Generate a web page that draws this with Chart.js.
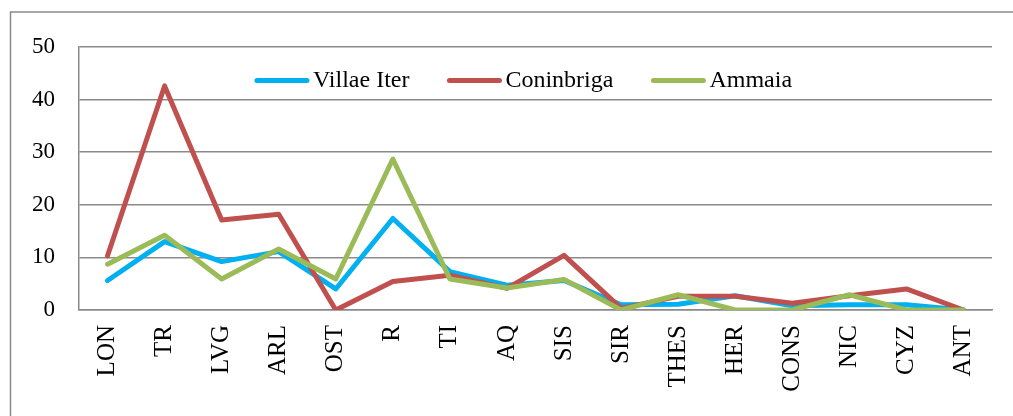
<!DOCTYPE html>
<html>
<head>
<meta charset="utf-8">
<script src="https://cdn.jsdelivr.net/npm/chart.js@4.4.1/dist/chart.umd.min.js"></script>
<style>
  html, body { margin: 0; padding: 0; background: #fff; }
  #wrap { position: relative; width: 1013px; height: 416px; }
</style>
</head>
<body>
<div id="wrap"><canvas id="c" width="1013" height="416"></canvas></div>
<script>
// Site counts by city, three series.
const labels = ["LON","TR","LVG","ARL","OST","R","TI","AQ","SIS","SIR","THES","HER","CONS","NIC","CYZ","ANT"];
const villaeIter = [5.6, 13.0, 9.2, 11.1, 4.0, 17.4, 7.3, 4.7, 5.6, 1.0, 1.1, 2.7, 0.8, 1.0, 1.0, 0];
const coninbriga = [10.3, 42.6, 17.1, 18.2, 0, 5.4, 6.6, 4.1, 10.4, 0.3, 2.6, 2.6, 1.3, 2.7, 4.0, 0];
const ammaia     = [8.7, 14.2, 5.9, 11.6, 5.9, 28.7, 5.9, 4.2, 5.8, 0, 2.9, 0, 0, 2.9, 0, 0];
const yTicks = [0, 10, 20, 30, 40, 50];

const SERIF = "'Liberation Serif', 'DejaVu Serif', serif";
const GRID = "#8a8a8a";

// outer frame (only left + top edges show in the source) and an in-plot legend
const frame = {
  id: "frame",
  beforeDraw(chart) {
    const ctx = chart.ctx;
    ctx.save();
    ctx.strokeStyle = GRID; ctx.lineWidth = 1.5;
    ctx.beginPath(); ctx.moveTo(10.5, 416); ctx.lineTo(10.5, 12); ctx.lineTo(1013, 12); ctx.stroke();
    ctx.restore();
  }
};
const inLegend = {
  id: "inLegend",
  afterDraw(chart) {
    const ctx = chart.ctx, ca = chart.chartArea;
    const sw = 54, gap = 4, sep = 38, y = 80.5;
    ctx.save();
    ctx.font = "24px " + SERIF;
    ctx.textBaseline = "middle";
    const items = chart.data.datasets.map(d => ({d, w: ctx.measureText(d.label).width}));
    const total = items.reduce((s, it) => s + sw + gap + it.w, 0) + sep * (items.length - 1);
    let x = (ca.left + ca.right) / 2 - 12 - total / 2;
    items.forEach(it => {
      ctx.strokeStyle = it.d.borderColor; ctx.lineWidth = 5; ctx.lineCap = "round";
      ctx.beginPath(); ctx.moveTo(x + 2, y); ctx.lineTo(x + sw - 2, y); ctx.stroke();
      ctx.fillStyle = "#000";
      ctx.fillText(it.d.label, x + sw + gap, y);
      x += sw + gap + it.w + sep;
    });
    ctx.restore();
  }
};

const line = (label, data, color, order) => ({
  label, data, borderColor: color, backgroundColor: color, borderWidth: 5,
  pointRadius: 0, tension: 0, borderJoinStyle: "round", borderCapStyle: "round", order
});

new Chart(document.getElementById("c"), {
  type: "line",
  data: {labels, datasets: [
    line("Villae Iter", villaeIter, "#00b0f0", 2),
    line("Coninbriga", coninbriga, "#c0504d", 1),
    line("Ammaia", ammaia, "#9bbb59", 0),
  ]},
  options: {
    responsive: false, animation: false,
    layout: {padding: {left: 0, top: 47, right: 21, bottom: 0}},
    plugins: {legend: {display: false}, tooltip: {enabled: false}},
    scales: {
      x: {
        offset: true,
        grid: {display: false, drawTicks: false},
        border: {display: true, color: GRID, width: 1.5},
        ticks: {color: "#000", font: {family: SERIF, size: 25}, minRotation: 90, maxRotation: 90, padding: 15, autoSkip: false},
        afterFit: s => { s.height = 106; }
      },
      y: {
        min: 0, max: 50,
        afterBuildTicks: s => { s.ticks = yTicks.map(v => ({value: v})); },
        grid: {color: GRID, lineWidth: 1.5, drawTicks: false},
        border: {display: true, color: GRID, width: 1.5},
        ticks: {color: "#000", font: {family: SERIF, size: 23}, padding: 24},
        afterFit: s => { s.width = 79; }
      }
    }
  },
  plugins: [frame, inLegend]
});
</script>
</body>
</html>
